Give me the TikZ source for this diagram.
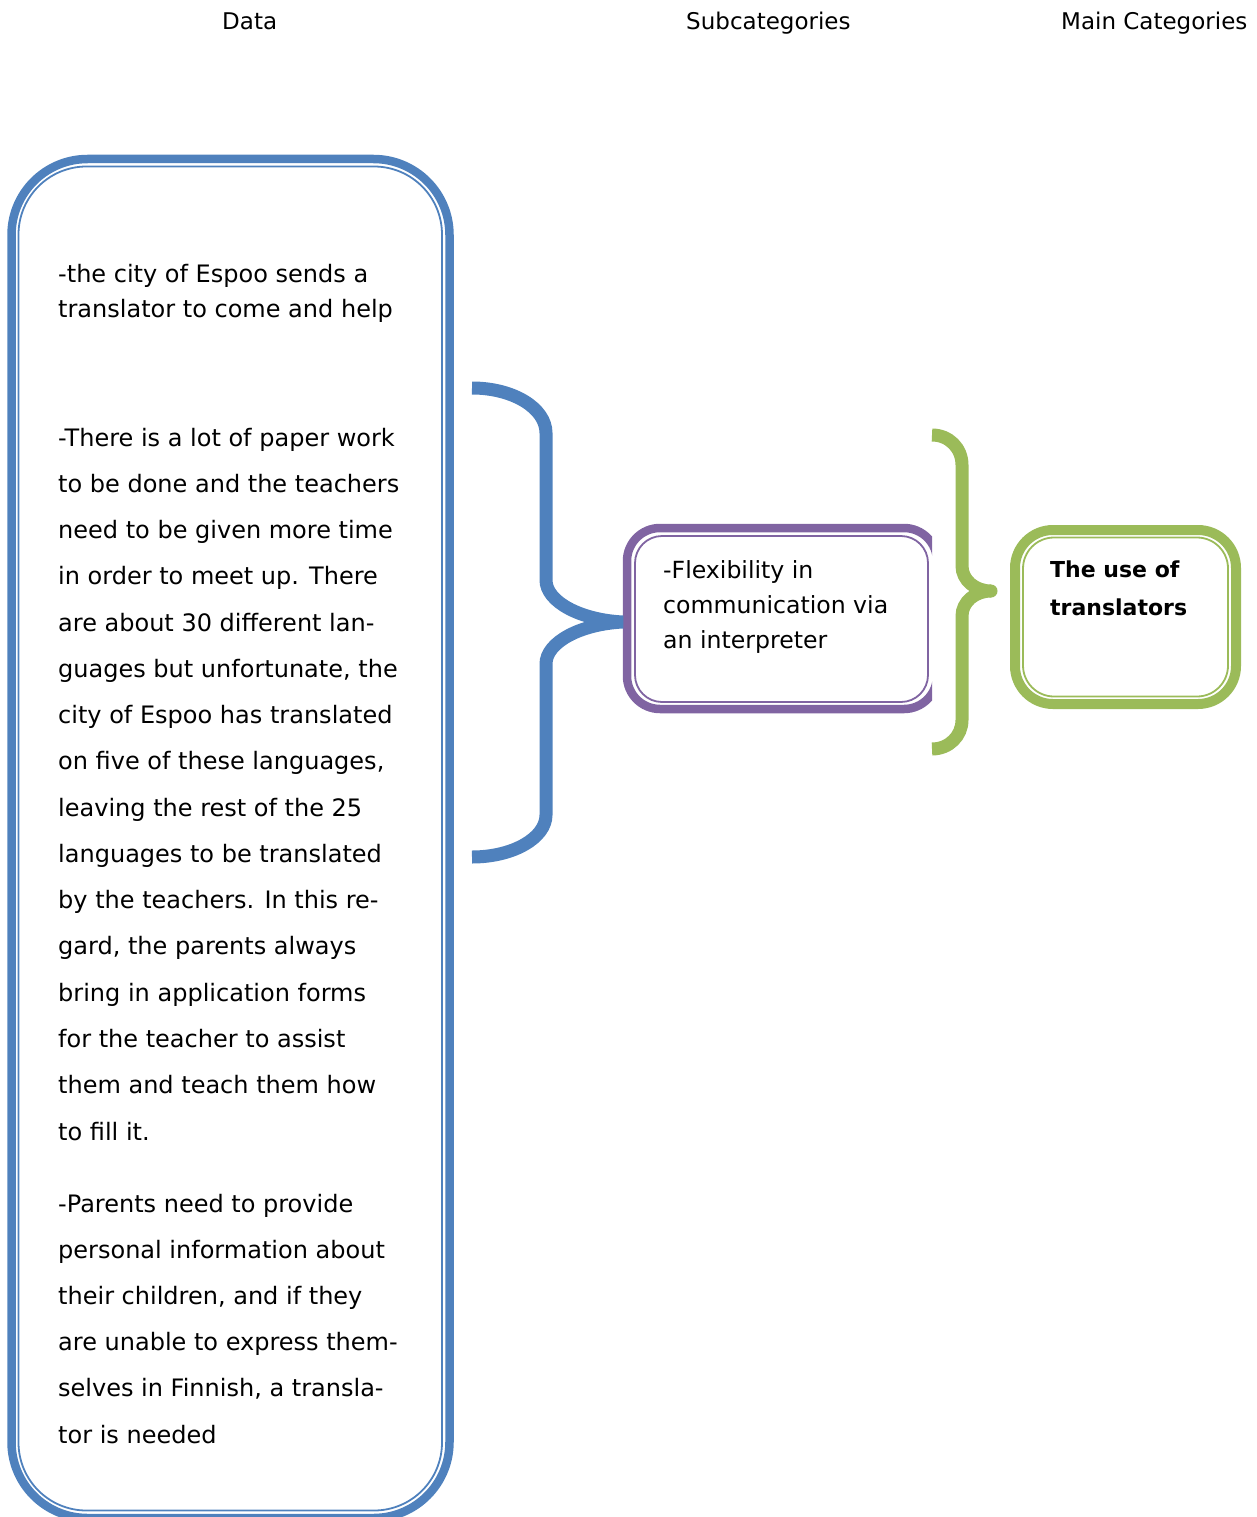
\documentclass[tikz,border=0pt]{standalone}
\usepackage{fontspec}
\setmainfont{DejaVu Sans}
\definecolor{bluec}{HTML}{4F81BD}
\definecolor{purplec}{HTML}{8064A2}
\definecolor{greenc}{HTML}{9BBB59}
\begin{document}
\begin{tikzpicture}[x=1pt,y=-1pt,
  txt/.style={anchor=base west,inner sep=0pt,text=black},
  body/.style={txt,font=\fontsize{24}{28}\selectfont},
  hdr/.style={txt,font=\fontsize{23}{27}\selectfont},
  subtxt/.style={txt,font=\fontsize{23.6}{28}\selectfont},
  maintxt/.style={txt,font=\fontsize{22}{26}\selectfont\bfseries},
  thickline/.style={line width=8.5pt},
  thinline/.style={line width=1.8pt},
  brace/.style={line width=13pt}]
\useasboundingbox (0,0) rectangle (1257,1517);

% headers
\node[hdr] (hdata) at (222,30) {Data};
\node[hdr] (hsub) at (686,30) {Subcategories};
\node[hdr] (hmain) at (1061,30) {Main Categories};

% data box
\draw[bluec,thickline,rounded corners=76pt] (11.5,159) rectangle (449.5,1518);
\draw[bluec,thinline,rounded corners=68pt] (18.5,166.5) rectangle (442,1510.5);

% purple box (clipped at right)
\begin{scope}
  \clip (600,500) rectangle (932,730);
  \draw[purplec,thickline,rounded corners=33pt] (627,528) rectangle (937,709);
  \draw[purplec,thinline,rounded corners=27pt] (635,536) rectangle (928,702);
\end{scope}

% green box
\draw[greenc,line width=10pt,rounded corners=38pt] (1015,530) rectangle (1236,704);
\draw[greenc,thinline,rounded corners=31pt] (1023,537.5) rectangle (1228,696.5);

% blue brace
\coordinate (bt) at (472,388);
\coordinate (btip) at (623,622);
\coordinate (bb) at (472,857);
\draw[bluec,brace] (bt) .. controls (513,388) and (546,408) .. (546,433)
  -- (546,580) .. controls (546,602) and (581,620) .. (btip)
  .. controls (581,624) and (546,642) .. (546,664)
  -- (546,815) .. controls (546,838) and (513,857) .. (bb);

% green brace
\coordinate (gt) at (932,435);
\coordinate (gtip) at (991,591);
\coordinate (gb) at (932,749);
\draw[greenc,brace] (gt) .. controls (949,435) and (962,448) .. (962,465)
  -- (962,566) .. controls (962,580) and (975,591) .. (gtip)
  .. controls (975,591) and (962,602) .. (962,616)
  -- (962,720) .. controls (962,736) and (949,749) .. (gb);
\fill[greenc] (gtip) circle[radius=6.5];

% data text
\node[body] (d1a) at (58,282) {-the city of Espoo sends a};
\node[body] (d1b) at (58,317) {translator to come and help};
\foreach \t [count=\i] in {{-There is a lot of paper work},{to be done and the teachers},
  {need to be given more time},{in order to meet up. There},{are about 30 different lan-},
  {guages but unfortunate, the},{city of Espoo has translated},{on five of these languages,},
  {leaving the rest of the 25},{languages to be translated},{by the teachers. In this re-},
  {gard, the parents always},{bring in application forms},{for the teacher to assist},
  {them and teach them how},{to fill it.}}
  \node[body] (d2l\i) at (58,{446+46.27*(\i-1)}) {\t};
\foreach \t [count=\i] in {{-Parents need to provide},{personal information about},
  {their children, and if they},{are unable to express them-},{selves in Finnish, a transla-},
  {tor is needed}}
  \node[body] (d3l\i) at (58,{1212+46.2*(\i-1)}) {\t};

% subcategory text
\node[subtxt] (s1) at (663,578) {-Flexibility in};
\node[subtxt] (s2) at (663,613) {communication via};
\node[subtxt] (s3) at (663,648) {an interpreter};

% main category text
\node[maintxt] (m1) at (1050,577) {The use of};
\node[maintxt] (m2) at (1050,615) {translators};
\end{tikzpicture}
\end{document}
